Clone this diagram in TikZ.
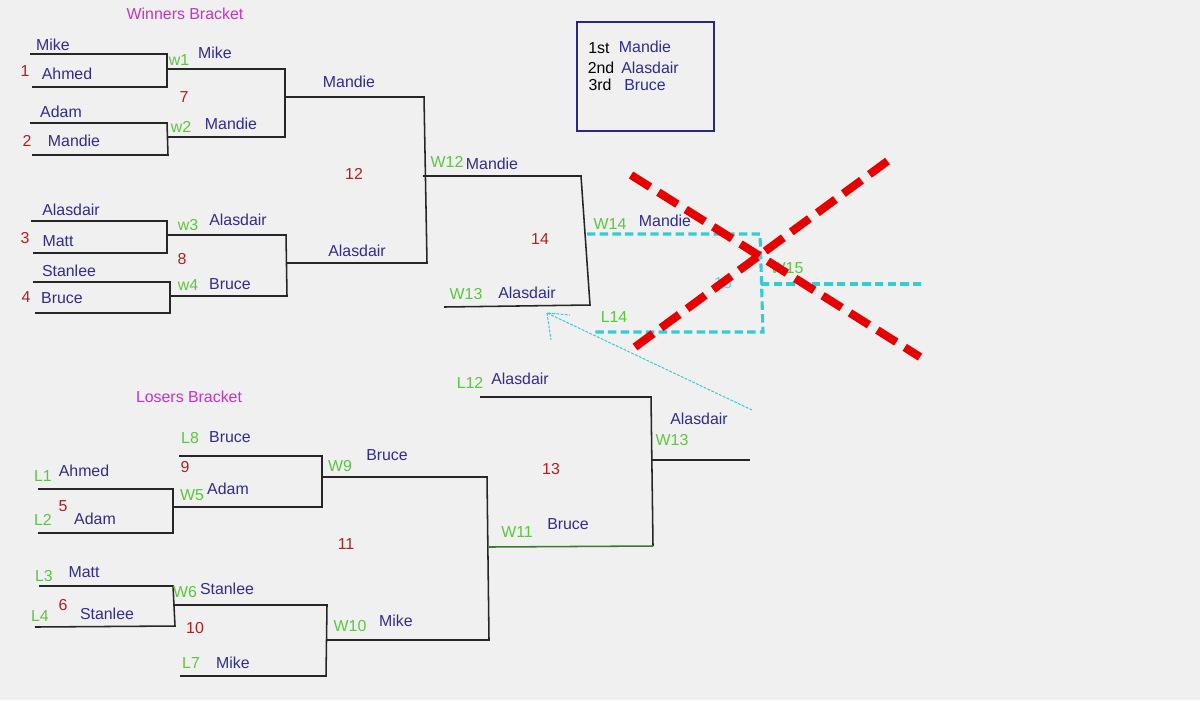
\documentclass[tikz,border=0pt]{standalone}
\usepackage{fontspec}
\setmainfont{Liberation Sans}
\definecolor{bgc}{RGB}{240,240,240}
\definecolor{nmc}{RGB}{45,45,150}
\definecolor{grc}{RGB}{90,200,60}
\definecolor{rdc}{RGB}{180,30,30}
\definecolor{mgc}{RGB}{200,50,200}
\definecolor{cyc}{RGB}{50,205,215}
\definecolor{xrc}{RGB}{230,0,0}
\definecolor{bxc}{RGB}{40,40,130}
\definecolor{dgc}{RGB}{60,120,50}
\begin{document}
\begin{tikzpicture}[x=0.025cm,y=-0.025cm,
 every node/.style={inner sep=0pt,font=\fontsize{11.3}{13}\selectfont},
 nm/.style={text=nmc}, lb/.style={text=grc}, num/.style={text=rdc}, ttl/.style={text=mgc},
 br/.style={draw=black!85,line width=1.1pt},
 cyd/.style={draw=cyc,line width=2.2pt,dash pattern=on 6pt off 3pt},
 redx/.style={draw=xrc,line width=5.8pt,dash pattern=on 16pt off 7pt},
 arr/.style={draw=cyc,line width=0.7pt,dash pattern=on 2pt off 1pt}]
\fill[bgc] (0,0) rectangle (1200,700);
% ---------- coordinates: winners bracket
\coordinate (a1) at (30,54);  \coordinate (a1e) at (167,54);
\coordinate (a2) at (32,87);  \coordinate (a2e) at (167,87);
\coordinate (w1s) at (167,69); \coordinate (w1e) at (285,69);
\coordinate (a3) at (30,123); \coordinate (a3e) at (167,123);
\coordinate (a4) at (32,155); \coordinate (a4e) at (168,155);
\coordinate (w2s) at (168,137); \coordinate (w2e) at (285,137);
\coordinate (m7s) at (285,97); \coordinate (m7e) at (424,97);
\coordinate (a5) at (31,221); \coordinate (a5e) at (167,221);
\coordinate (a6) at (33,253); \coordinate (a6e) at (167,253);
\coordinate (w3s) at (168,235); \coordinate (w3e) at (286,235);
\coordinate (a7) at (33,282); \coordinate (a7e) at (170,282);
\coordinate (a8) at (35,313); \coordinate (a8e) at (170,313);
\coordinate (w4s) at (170,296); \coordinate (w4e) at (287,296);
\coordinate (m8s) at (287,263); \coordinate (m8e) at (427,263);
\coordinate (f1) at (423,176); \coordinate (f1e) at (581,176);
\coordinate (f2) at (444,307); \coordinate (f2e) at (590,305);
\coordinate (c1) at (587,234); \coordinate (c1e) at (760,234);
\coordinate (c2) at (593,332); \coordinate (c2e) at (763,332);
\coordinate (c3) at (761,284); \coordinate (c3e) at (922,284);
\coordinate (x1) at (631,175); \coordinate (x1e) at (920,357);
\coordinate (x2) at (635,347); \coordinate (x2e) at (893,157);
\coordinate (ar) at (547,313); \coordinate (art) at (752,410);
\coordinate (ara) at (570,315); \coordinate (arb) at (551,340);
% ---------- coordinates: losers bracket
\coordinate (b1) at (38,489); \coordinate (b1e) at (173,489);
\coordinate (b2) at (38,533); \coordinate (b2e) at (173,533);
\coordinate (w5s) at (173,507); \coordinate (w5e) at (322,507);
\coordinate (l8) at (179,456); \coordinate (l8e) at (322,456);
\coordinate (w9s) at (323,477); \coordinate (w9e) at (487,477);
\coordinate (b3) at (39,586); \coordinate (b3e) at (173,586);
\coordinate (b4) at (35,627); \coordinate (b4e) at (175,626);
\coordinate (w6s) at (174,605); \coordinate (w6e) at (327,605);
\coordinate (l7) at (180,676); \coordinate (l7e) at (326,676);
\coordinate (w10s) at (327,640); \coordinate (w10e) at (489,640);
\coordinate (w11s) at (489,547); \coordinate (w11e) at (653,546);
\coordinate (l12) at (480,397); \coordinate (l12e) at (651,397);
\coordinate (w13s) at (652,460); \coordinate (w13e) at (750,460);
% ---------- bracket lines
\draw[br] (a1) -- (a1e) -- (a2e) -- (a2);
\draw[br] (a3) -- (a3e) -- (a4e) -- (a4);
\draw[br] (w1s) -- (w1e) -- (w2e) -- (w2s);
\draw[br] (a5) -- (a5e) -- (a6e) -- (a6);
\draw[br] (a7) -- (a7e) -- (a8e) -- (a8);
\draw[br] (w3s) -- (w3e) -- (w4e) -- (w4s);
\draw[br] (m7s) -- (m7e) -- (m8e) -- (m8s);
\draw[br] (f1) -- (f1e) -- (f2e) -- (f2);
\draw[br] (b1) -- (b1e) -- (b2e) -- (b2);
\draw[br] (l8) -- (l8e) -- (w5e) -- (w5s);
\draw[br] (b3) -- (b3e) -- (b4e) -- (b4);
\draw[br] (w6s) -- (w6e) -- (l7e) -- (l7);
\draw[br] (w9s) -- (w9e) -- (w10e) -- (w10s);
\draw[br] (l12) -- (l12e) -- (w11e);
\draw[draw=dgc,line width=1.1pt] (w11e) -- (w11s);
\draw[br] (w13s) -- (w13e);
% ---------- cyan lines
\draw[cyd] (c1) -- (c1e) -- (c2e) -- (c2);
\draw[cyd] (c3) -- (c3e);
\draw[arr] (art) -- (ar) -- (ara);
\draw[arr] (ar) -- (arb);
% ---------- result box
\draw[draw=bxc,line width=1.5pt] (577,22) rectangle (714,131);
% ---------- texts winners
\node[ttl] (t0) at (185,14) {Winners Bracket};
\node[nm] (t1) at (53,45) {Mike};
\node[nm] (t2) at (67,74) {Ahmed};
\node[num] (t3) at (25,71) {1};
\node[nm] (t4) at (61,112) {Adam};
\node[nm] (t5) at (74,141) {Mandie};
\node[num] (t6) at (27,141) {2};
\node[lb] (t7) at (179,60) {w1};
\node[nm] (t8) at (215,53) {Mike};
\node[num] (t9) at (184,97) {7};
\node[lb] (t10) at (181,127) {w2};
\node[nm] (t11) at (231,124) {Mandie};
\node[nm] (t12) at (349,82) {Mandie};
\node[num] (t13) at (354,174) {12};
\node[nm] (t14) at (71,210) {Alasdair};
\node[nm] (t15) at (58,241) {Matt};
\node[num] (t16) at (25,238) {3};
\node[nm] (t17) at (69,271) {Stanlee};
\node[nm] (t18) at (62,298) {Bruce};
\node[num] (t19) at (26,297) {4};
\node[lb] (t20) at (188,225) {w3};
\node[nm] (t21) at (238,220) {Alasdair};
\node[num] (t22) at (182,259) {8};
\node[lb] (t23) at (188,285) {w4};
\node[nm] (t24) at (230,284) {Bruce};
\node[nm] (t25) at (357,251) {Alasdair};
\node[lb] (t26) at (447,162) {W12};
\node[nm] (t27) at (492,164) {Mandie};
\node[num] (t28) at (540,239) {14};
\node[lb] (t29) at (610,224) {W14};
\node[nm] (t30) at (665,221) {Mandie};
\node[lb] (t31) at (466,294) {W13};
\node[nm] (t32) at (527,293) {Alasdair};
\node[lb] (t33) at (614,317) {L14};
\node[lb] (t34) at (787,268) {W15};
\node[text=cyc!80!white] (t35) at (723,283) {15};
\node (t36) at (599,48) {1st};
\node[nm] (t37) at (645,47) {Mandie};
\node (t38) at (601,68) {2nd};
\node[nm] (t39) at (650,68) {Alasdair};
\node (t40) at (600,85) {3rd};
\node[nm] (t41) at (645,85) {Bruce};
% ---------- texts losers
\node[ttl] (u0) at (189,397) {Losers Bracket};
\node[lb] (u1) at (43,476) {L1};
\node[nm] (u2) at (84,471) {Ahmed};
\node[num] (u3) at (63,506) {5};
\node[lb] (u4) at (43,520) {L2};
\node[nm] (u5) at (95,519) {Adam};
\node[lb] (u6) at (190,438) {L8};
\node[nm] (u7) at (230,437) {Bruce};
\node[num] (u8) at (185,467) {9};
\node[lb] (u9) at (192,495) {W5};
\node[nm] (u10) at (228,489) {Adam};
\node[lb] (u11) at (340,466) {W9};
\node[nm] (u12) at (387,455) {Bruce};
\node[num] (u13) at (346,544) {11};
\node[lb] (u14) at (44,576) {L3};
\node[nm] (u15) at (84,572) {Matt};
\node[num] (u16) at (63,605) {6};
\node[lb] (u17) at (40,616) {L4};
\node[nm] (u18) at (107,614) {Stanlee};
\node[lb] (u19) at (185,592) {W6};
\node[nm] (u20) at (227,589) {Stanlee};
\node[num] (u21) at (195,628) {10};
\node[lb] (u22) at (191,663) {L7};
\node[nm] (u23) at (233,663) {Mike};
\node[lb] (u24) at (350,626) {W10};
\node[nm] (u25) at (396,621) {Mike};
\node[lb] (u26) at (470,383) {L12};
\node[nm] (u27) at (520,379) {Alasdair};
\node[num] (u28) at (551,469) {13};
\node[nm] (u29) at (699,419) {Alasdair};
\node[lb] (u30) at (672,440) {W13};
\node[lb] (u31) at (517,532) {W11};
\node[nm] (u32) at (568,524) {Bruce};
% ---------- red cross
\draw[redx] (x1) -- (x1e);
\draw[redx] (x2) -- (x2e);
\end{tikzpicture}
\end{document}
